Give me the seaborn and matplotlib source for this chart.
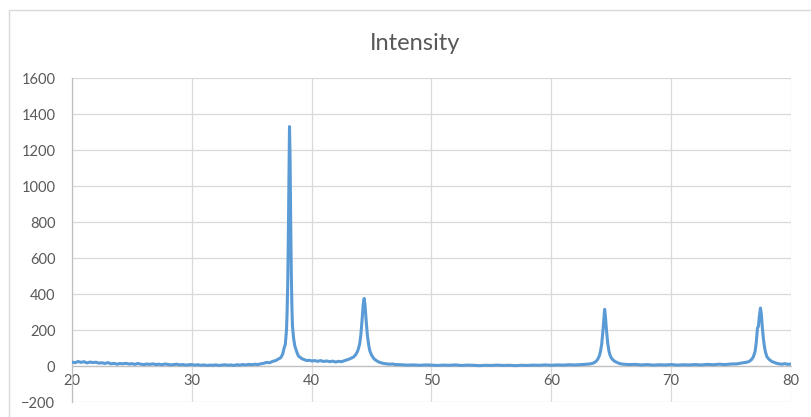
import matplotlib
matplotlib.use("Agg")
import matplotlib.pyplot as plt
import seaborn as sns
import pandas as pd
from matplotlib.patches import Rectangle

# 2-theta positions (degrees)
two_theta = [
    20.0, 20.25, 20.5, 20.75, 21.0, 21.25, 21.5, 21.75, 22.0, 22.25, 22.5, 22.75,
    23.0, 23.25, 23.5, 23.75, 24.0, 24.25, 24.5, 24.75, 25.0, 25.25, 25.5, 25.75,
    26.0, 26.25, 26.5, 26.75, 27.0, 27.25, 27.5, 27.75, 28.0, 28.25, 28.5, 28.75,
    29.0, 29.25, 29.5, 29.75, 30.0, 30.25, 30.5, 30.75, 31.0, 31.25, 31.5, 31.75,
    32.0, 32.25, 32.5, 32.75, 33.0, 33.25, 33.5, 33.75, 34.0, 34.25, 34.5, 34.75,
    35.0, 35.25, 35.5, 35.75, 36.0,
    36.25, 36.5, 36.75, 37.0, 37.2, 37.4, 37.5, 37.6, 37.7, 37.8, 37.9, 37.95,
    38.0, 38.05, 38.1, 38.15, 38.2, 38.25, 38.3, 38.35, 38.4, 38.5, 38.6, 38.7,
    38.8, 38.9, 39.0, 39.2, 39.4, 39.6, 39.8, 40.0, 40.25, 40.5, 40.75, 41.0,
    41.25, 41.5, 41.75, 42.0, 42.25, 42.5, 42.75, 43.0, 43.25, 43.5, 43.7, 43.85,
    44.0, 44.1, 44.2, 44.3, 44.38, 44.45, 44.55, 44.65, 44.75, 44.85, 45.0, 45.2,
    45.4, 45.6, 45.8, 46.0, 46.25, 46.5, 46.75, 47.0,
    47.5, 48.0, 48.5, 49.0, 49.5, 50.0, 50.5, 51.0, 51.5, 52.0, 52.5, 53.0,
    53.5, 54.0, 54.5, 55.0, 55.5, 56.0, 56.5, 57.0, 57.5, 58.0, 58.5, 59.0,
    59.5, 60.0, 60.5, 61.0, 61.5, 62.0, 62.5, 63.0, 63.25, 63.5, 63.7, 63.85,
    64.0, 64.1, 64.2, 64.3, 64.38, 64.45, 64.52, 64.6, 64.7, 64.8, 64.9, 65.0,
    65.2, 65.4, 65.6, 65.8, 66.0, 66.5, 67.0, 67.5, 68.0, 68.5, 69.0, 69.5,
    70.0, 70.5, 71.0, 71.5, 72.0, 72.5, 73.0, 73.5, 74.0, 74.5, 75.0, 75.5,
    75.75, 76.0, 76.25, 76.5, 76.7, 76.85, 77.0, 77.1, 77.2, 77.28, 77.35, 77.45,
    77.52, 77.6, 77.7, 77.8, 77.9, 78.0, 78.2, 78.4, 78.6, 78.8, 79.0, 79.25,
    79.5, 79.75, 80.0,
]

# Measured intensity (counts)
intensity = [
    22, 18, 25, 20, 24, 17, 22, 19, 21, 16, 18, 14,
    19, 12, 15, 10, 14, 12, 15, 11, 13, 9, 14, 10,
    8, 11, 9, 12, 8, 10, 7, 11, 9, 6, 8, 10,
    6, 8, 5, 7, 8, 5, 7, 4, 6, 3, 5, 4,
    6, 3, 5, 7, 4, 6, 3, 7, 5, 8, 6, 9,
    7, 10, 8, 12, 15,
    20, 18, 26, 30, 38, 45, 55, 70, 100, 120, 200, 300,
    450, 700, 1000, 1330, 1150, 800, 520, 330, 220, 150, 110, 90,
    70, 55, 50, 40, 35, 30, 32, 28, 30, 26, 30, 25,
    28, 24, 27, 22, 26, 24, 30, 35, 42, 50, 65, 85,
    120, 170, 250, 340, 375, 340, 250, 170, 120, 85, 60, 40,
    30, 22, 18, 14, 12, 10, 11, 8,
    7, 5, 6, 4, 6, 5, 3, 5, 4, 6, 3, 5,
    4, 2, 4, 3, 5, 3, 4, 2, 4, 3, 5, 4,
    6, 4, 6, 5, 7, 6, 8, 10, 12, 16, 24, 35,
    55, 80, 120, 190, 260, 315, 270, 200, 130, 85, 60, 45,
    30, 22, 16, 12, 10, 8, 9, 6, 8, 5, 7, 6,
    8, 5, 7, 6, 8, 6, 9, 7, 10, 8, 11, 12,
    15, 18, 20, 25, 35, 50, 80, 130, 210, 220, 270, 322,
    290, 220, 150, 100, 70, 50, 35, 25, 20, 15, 12, 10,
    13, 9, 11,
]

x_ticks = [20, 30, 40, 50, 60, 70, 80]
y_ticks = [-200, 0, 200, 400, 600, 800, 1000, 1200, 1400, 1600]
title_text = "Intensity"

assert len(two_theta) == len(intensity)
df = pd.DataFrame({"two_theta": two_theta, "intensity": intensity})

sns.set_style("white")
plt.rcParams["font.family"] = ["Lato", "DejaVu Sans"]

fig = plt.figure(figsize=(8.12, 4.17), dpi=100)
fig.patches.append(Rectangle((9 / 812, -0.1), 1.2, 1 - 10 / 417 + 0.1,
                             transform=fig.transFigure, fill=False,
                             edgecolor="#D9D9D9", linewidth=1.0))
ax = fig.add_axes([72 / 812, 1 - 402 / 417, (791 - 72) / 812, (402 - 78) / 417])

grid_c = "#D9D9D9"
text_c = "#595959"

sns.lineplot(data=df, x="two_theta", y="intensity", ax=ax, color="#5B9BD5",
             linewidth=2.2, zorder=3)

ax.set_xlim(20, 80)
ax.set_ylim(-200, 1600)
ax.set_xticks(x_ticks)
ax.set_yticks(y_ticks)
ax.grid(True, color=grid_c, linewidth=0.9, zorder=0)
ax.set_axisbelow(True)

for s in ["top", "right"]:
    ax.spines[s].set_visible(False)
ax.spines["bottom"].set_position(("data", 0))
ax.spines["bottom"].set_color("#BFBFBF")
ax.spines["bottom"].set_linewidth(0.9)
ax.spines["left"].set_color("#BFBFBF")
ax.spines["left"].set_linewidth(0.9)

ax.tick_params(axis="both", length=0, labelsize=10.5, colors=text_c)
ax.tick_params(axis="y", pad=12)
ax.tick_params(axis="x", pad=6)
ax.set_xlabel("")
ax.set_ylabel("")

fig.text(415 / 812, 1 - 43 / 417, title_text, ha="center", va="center",
         fontsize=17, color=text_c)

fig.savefig("out.png", dpi=100)
